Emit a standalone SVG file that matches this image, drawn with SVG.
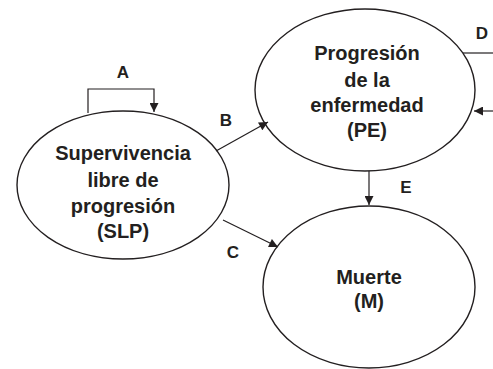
<svg xmlns="http://www.w3.org/2000/svg" width="493" height="369" viewBox="0 0 493 369">
<style>
.n{fill:none;stroke:#231f20;stroke-width:1.4}
.t{font-family:"Liberation Sans",Arial,sans-serif;font-weight:bold;font-size:20px;fill:#231f20;text-anchor:middle}
.l{font-family:"Liberation Sans",Arial,sans-serif;font-weight:bold;font-size:17px;fill:#231f20;text-anchor:middle}
.c{fill:none;stroke:#231f20;stroke-width:1.2}
</style>
<defs>
<marker id="ah" viewBox="0 0 10 10" refX="10" refY="5" markerWidth="10" markerHeight="9" markerUnits="userSpaceOnUse" orient="auto">
<path d="M0,0 L10,5 L0,10 Z" fill="#231f20"/>
</marker>
</defs>
<rect width="493" height="369" fill="#fff"/>
<g id="connectors">
<path class="c" d="M88,113 V89 H154 V112" marker-end="url(#ah)"/>
<path class="c" d="M216,151 L268,122" marker-end="url(#ah)"/>
<path class="c" d="M223,220 L278,247" marker-end="url(#ah)"/>
<path class="c" d="M369,171 V205" marker-end="url(#ah)"/>
<path class="c" d="M463,53 H493"/>
<path class="c" d="M493,111 H474" marker-end="url(#ah)"/>
<text class="l" x="123" y="78">A</text>
<text class="l" x="226" y="126">B</text>
<text class="l" x="233" y="258">C</text>
<text class="l" x="482" y="39">D</text>
<text class="l" x="406" y="193">E</text>
</g>
<g id="SLP">
<ellipse class="n" cx="123" cy="185" rx="106" ry="74"/>
<text class="t" x="123" y="160">Supervivencia</text>
<text class="t" x="123" y="187">libre de</text>
<text class="t" x="123" y="213">progresión</text>
<text class="t" x="123" y="238">(SLP)</text>
</g>
<g id="PE">
<ellipse class="n" cx="365" cy="90" rx="110" ry="81"/>
<text class="t" x="367" y="60">Progresión</text>
<text class="t" x="367" y="87">de la</text>
<text class="t" x="367" y="112">enfermedad</text>
<text class="t" x="367" y="137">(PE)</text>
</g>
<g id="M">
<ellipse class="n" cx="369" cy="287" rx="106" ry="81"/>
<text class="t" x="369" y="284">Muerte</text>
<text class="t" x="369" y="308">(M)</text>
</g>
</svg>
